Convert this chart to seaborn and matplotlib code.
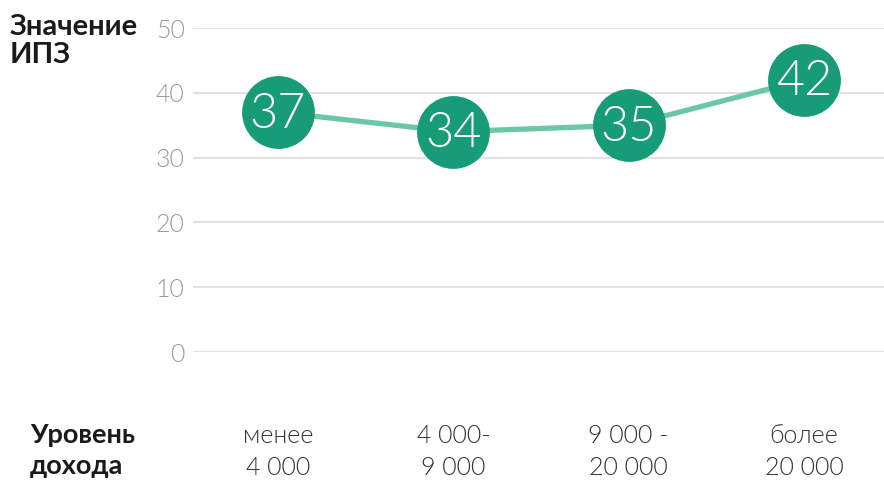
import matplotlib
matplotlib.use('Agg')
import matplotlib.pyplot as plt
import seaborn as sns
import pandas as pd

categories = ['менее\n4 000', '4 000-\n9 000', '9 000 -\n20 000', 'более\n20 000']
values = [37, 34, 35, 42]
yticks = [0, 10, 20, 30, 40, 50]

df = pd.DataFrame({'income': categories, 'ipz': values})

sns.set_style('white')
plt.rcParams['font.family'] = ['Lato', 'DejaVu Sans']

fig = plt.figure(figsize=(8.84, 4.8), dpi=100)
ax = fig.add_axes([193 / 884, 128 / 480, 1 - 193 / 884, 324 / 480])

dark = '#189b77'
light = '#6cc8a4'

sns.lineplot(data=df, x='income', y='ipz', color=light, linewidth=3.8, ax=ax,
             sort=False, zorder=2)
sns.scatterplot(data=df, x='income', y='ipz', color=dark, s=2750, linewidth=0,
                ax=ax, zorder=3, clip_on=False)
for i, v in enumerate(values):
    ax.text(i, v - 0.3, str(v), ha='center', va='center', color='white', fontsize=35,
            fontweight=300, zorder=4)

ax.set_ylim(0, 50)
ax.set_xlim(-0.485, 3.456)
ax.set_yticks(yticks)
ax.set_yticklabels([str(t) for t in yticks], fontsize=18, color='#9a9a9a',
                   fontweight=300)
ax.grid(axis='y', color='#e2e2e2', linewidth=1.5)
ax.grid(axis='x', visible=False)
ax.tick_params(axis='y', length=0, pad=6)
ax.tick_params(axis='x', length=0, pad=52)
for lbl in ax.get_xticklabels():
    lbl.set_fontsize(18)
    lbl.set_color('#333333')
    lbl.set_fontweight(300)
    lbl.set_linespacing(1.4)
ax.set_xlabel('')
ax.set_ylabel('')
for s in ax.spines.values():
    s.set_visible(False)

fig.text(10 / 884, 1 - 14 / 480, 'Значение\nИПЗ', ha='left', va='top', fontsize=21,
         fontweight='bold', color='#1a1a1a', linespacing=1.1)
fig.text(30 / 884, 1 - 423 / 480, 'Уровень\nдохода', ha='left', va='top', fontsize=19.5,
         fontweight='bold', color='#1a1a1a', linespacing=1.35)

fig.savefig('out.png', dpi=100)
